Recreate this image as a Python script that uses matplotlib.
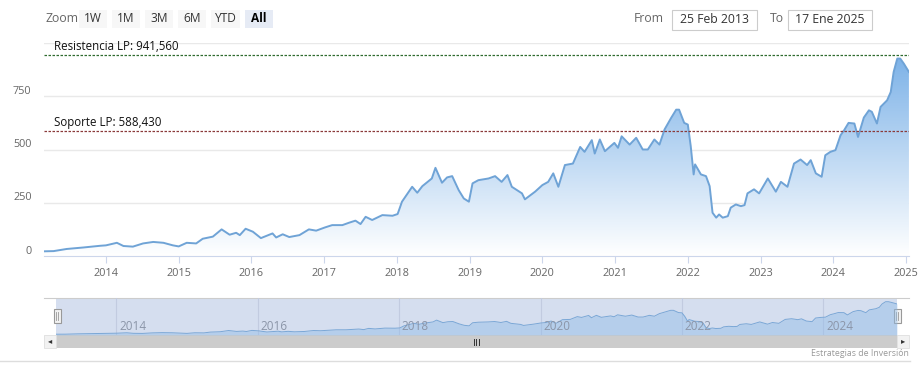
import numpy as np
import matplotlib
matplotlib.use("Agg")
import matplotlib.pyplot as plt
from matplotlib.colors import LinearSegmentedColormap
from matplotlib.patches import Rectangle

plt.rcParams['font.family'] = ['Open Sans', 'DejaVu Sans']

# Datos (año decimal, precio)
years = [
    2013.15, 2013.28, 2013.46, 2013.69, 2013.92, 2014.00, 2014.15, 2014.24, 2014.37, 2014.51,
    2014.65, 2014.79, 2014.92, 2015.00, 2015.11, 2015.24, 2015.33, 2015.47, 2015.59, 2015.70,
    2015.79, 2015.84, 2015.92, 2016.02, 2016.13, 2016.29, 2016.34, 2016.43, 2016.52, 2016.66,
    2016.79, 2016.89, 2017.01, 2017.11, 2017.25, 2017.34, 2017.43, 2017.50, 2017.57, 2017.66,
    2017.80, 2017.94, 2018.01, 2018.07, 2018.21, 2018.28, 2018.35, 2018.48, 2018.53, 2018.62,
    2018.69, 2018.76, 2018.85, 2018.92, 2018.99, 2019.04, 2019.12, 2019.26, 2019.35, 2019.44,
    2019.52, 2019.58, 2019.72, 2019.76, 2019.90, 2020.00, 2020.08, 2020.15, 2020.22, 2020.31,
    2020.42, 2020.52, 2020.58, 2020.68, 2020.72, 2020.79, 2020.86, 2020.99, 2021.04, 2021.09,
    2021.20, 2021.29, 2021.38, 2021.45, 2021.54, 2021.61, 2021.68, 2021.77, 2021.84, 2021.88,
    2021.95, 2022.00, 2022.04, 2022.08, 2022.10, 2022.18, 2022.25, 2022.30, 2022.34, 2022.39,
    2022.43, 2022.48, 2022.55, 2022.59, 2022.66, 2022.73, 2022.78, 2022.82, 2022.91, 2022.98,
    2023.10, 2023.21, 2023.28, 2023.37, 2023.46, 2023.55, 2023.64, 2023.69, 2023.76, 2023.84,
    2023.89, 2023.96, 2024.03, 2024.10, 2024.15, 2024.21, 2024.29, 2024.34, 2024.42, 2024.49,
    2024.53, 2024.60, 2024.65, 2024.74, 2024.79, 2024.83, 2024.88, 2024.92, 2024.97, 2025.04,
]
prices = [
    22, 23, 33, 40, 48, 50, 62, 47, 44, 59,
    66, 62, 50, 45, 62, 59, 81, 91, 125, 100,
    109, 98, 128, 114, 84, 106, 87, 102, 89, 98,
    125, 119, 134, 145, 145, 156, 166, 150, 184, 169,
    192, 189, 197, 255, 325, 297, 328, 364, 414, 344,
    369, 375, 309, 270, 255, 341, 356, 364, 375, 348,
    380, 325, 294, 266, 302, 333, 348, 388, 325, 427,
    434, 512, 489, 544, 481, 547, 492, 531, 508, 562,
    523, 555, 500, 500, 547, 523, 594, 648, 687, 687,
    625, 617, 516, 383, 430, 383, 375, 328, 203, 180,
    195, 180, 187, 227, 242, 234, 239, 294, 313, 294,
    364, 302, 348, 325, 434, 453, 427, 450, 388, 372,
    473, 489, 497, 567, 591, 625, 622, 559, 650, 684,
    677, 622, 700, 731, 770, 864, 927, 927, 903, 864,
]

resistencia = 941.56
soporte = 588.43
y_ticks = [0, 250, 500, 750]
x_years = list(range(2014, 2026))
nav_years = [2014, 2016, 2018, 2020, 2022, 2024]
zoom_buttons = ["1W", "1M", "3M", "6M", "YTD", "All"]
date_from = "25 Feb 2013"
date_to = "17 Ene 2025"

W, H = 919, 380
XMIN, XMAX = 2013.148, 2025.041
LINE = '#6fa3d6'
GRID = '#e9e9e9'
AXIS = '#ccd6eb'
TXT = '#666666'


def px(x0, y0, x1, y1):
    """Rectángulo en píxeles -> coordenadas de figura"""
    return [x0 / W, 1 - y1 / H, (x1 - x0) / W, (y1 - y0) / H]


fig = plt.figure(figsize=(W / 100, H / 100), dpi=100)
fig.patch.set_facecolor('white')

# Capa de interfaz en píxeles
ui = fig.add_axes([0, 0, 1, 1], zorder=0)
ui.set_xlim(0, W)
ui.set_ylim(H, 0)
ui.axis('off')

# ==================== Gráfico principal ====================
ax = fig.add_axes(px(44, 43, 909, 256), zorder=2)
ax.set_facecolor('none')
ax.set_xlim(XMIN, XMAX)
ax.set_ylim(0, 1000)

x = np.array(years)
y = np.array(prices)

cmap = LinearSegmentedColormap.from_list('fade', ['#ffffff', '#74ade6'])
grad = np.linspace(0, 1, 256).reshape(-1, 1)
poly = ax.fill_between(x, y, 0, color='none', lw=0)
im = ax.imshow(grad, extent=[XMIN, XMAX, 0, 1000], origin='lower', aspect='auto',
               cmap=cmap, zorder=1)
im.set_clip_path(poly.get_paths()[0], transform=ax.transData)
ax.plot(x, y, color=LINE, lw=1.4, zorder=3)

for v in y_ticks[1:] + [1000]:
    ax.axhline(v, color=GRID, lw=1, zorder=0)

ax.axhline(resistencia, color='#2f6b2f', lw=0.9, ls=(0, (2, 1.2)), zorder=4)
ax.axhline(soporte, color='#8b3a3a', lw=0.9, ls=(0, (2, 1.2)), zorder=4)
lbl_tr = ax.get_yaxis_transform()
ax.annotate(f"Resistencia LP: {resistencia:,.3f}".replace('.', ','), xy=(0, resistencia),
            xycoords=lbl_tr, xytext=(7, 1.5), textcoords='offset points',
            fontsize=8.3, color='#111111', va='bottom')
ax.annotate(f"Soporte LP: {soporte:,.3f}".replace('.', ','), xy=(0, soporte),
            xycoords=lbl_tr, xytext=(7, 1.5), textcoords='offset points',
            fontsize=8.3, color='#111111', va='bottom')

for s in ['top', 'right', 'left']:
    ax.spines[s].set_visible(False)
ax.spines['bottom'].set_color(AXIS)
ax.set_yticks([])
ax.set_xticks(x_years)
ax.set_xticklabels([str(v) for v in x_years], fontsize=7.8, color=TXT)
ax.tick_params(axis='x', length=5, color=AXIS, pad=4)

for v in y_ticks:
    ax.annotate(str(v), xy=(0, v), xycoords=lbl_tr, xytext=(-9, 3.5),
                textcoords='offset points', ha='right', va='center',
                fontsize=7.8, color=TXT)

# ==================== Navegador ====================
ui.add_patch(Rectangle((56, 298), 841, 37, facecolor='#d5deef', edgecolor='none'))
ui.plot([44, 909], [298, 298], color='#cccccc', lw=0.8)

nav = fig.add_axes(px(56, 298, 897, 335), zorder=2)
nav.set_facecolor('none')
nav.set_xlim(XMIN, XMAX)
nav.set_ylim(0, 1030)
nav.fill_between(x, y, 0, color='#8fbbe8', alpha=0.45, lw=0)
nav.plot(x, y, color='#7aa7d6', lw=0.7)
for v in nav_years:
    nav.axvline(v, color='#c2cbe0', lw=0.8, zorder=0)
    nav.annotate(str(v), xy=(v, 0), xycoords=('data', 'axes fraction'), xytext=(2, 1.5),
                 textcoords='offset points', fontsize=8.5, color='#8b95a8', va='bottom')
nav.axis('off')

# Manijas
for hx in [57, 897]:
    ui.add_patch(Rectangle((hx - 3.5, 309), 7, 14, facecolor='#f2f2f2',
                           edgecolor='#999999', lw=0.8, zorder=5))
    ui.plot([hx - 0.8, hx - 0.8], [312, 320], color='#999999', lw=0.6, zorder=6)
    ui.plot([hx + 0.8, hx + 0.8], [312, 320], color='#999999', lw=0.6, zorder=6)

# Barra de desplazamiento
ui.add_patch(Rectangle((44, 335), 865, 13, facecolor='#f2f2f2', edgecolor='none'))
ui.add_patch(Rectangle((56, 335), 841, 13, facecolor='#cccccc', edgecolor='none'))
ui.add_patch(Rectangle((44, 335), 12, 13, facecolor='#f2f2f2', edgecolor='#e0e0e0', lw=0.6))
ui.add_patch(Rectangle((897, 335), 12, 13, facecolor='#f2f2f2', edgecolor='#e0e0e0', lw=0.6))
ui.text(50, 341.5, '◂', fontsize=6, ha='center', va='center', color='#333333')
ui.text(903, 341.5, '▸', fontsize=6, ha='center', va='center', color='#333333')
for gx in [-2.5, 0, 2.5]:
    ui.plot([476 + gx, 476 + gx], [339, 344.5], color='#333333', lw=0.7)

# Pie
ui.plot([0, 910], [361, 361], color='#dddddd', lw=1)
ui.text(909, 353, 'Estrategias de Inversión', fontsize=6.3, color='#999999',
        ha='right', va='center')

# ==================== Selector de rango ====================
ui.text(45, 18.5, 'Zoom', fontsize=8.8, color=TXT, va='center')
bx = 79
for b in zoom_buttons:
    w = 29 if b == 'YTD' else 28
    sel = b == 'All'
    ui.add_patch(Rectangle((bx, 10), w, 18, facecolor='#e6ebf5' if sel else '#f7f7f7',
                           edgecolor='none'))
    ui.text(bx + w / 2, 19, b, fontsize=8.6, ha='center', va='center',
            color='#000000' if sel else '#333333', fontweight='bold' if sel else 'normal')
    bx += w + 5

ui.text(664, 19, 'From', fontsize=8.8, color=TXT, ha='right', va='center')
ui.add_patch(Rectangle((672, 10), 85, 20, facecolor='white', edgecolor='#cccccc', lw=0.8))
ui.text(714.5, 19.5, date_from, fontsize=8.8, color='#333333', ha='center', va='center')
ui.text(777, 19, 'To', fontsize=8.8, color=TXT, ha='center', va='center')
ui.add_patch(Rectangle((788, 10), 84, 20, facecolor='white', edgecolor='#cccccc', lw=0.8))
ui.text(830, 19.5, date_to, fontsize=8.8, color='#333333', ha='center', va='center')

fig.savefig('out.png', dpi=100, facecolor='white')
